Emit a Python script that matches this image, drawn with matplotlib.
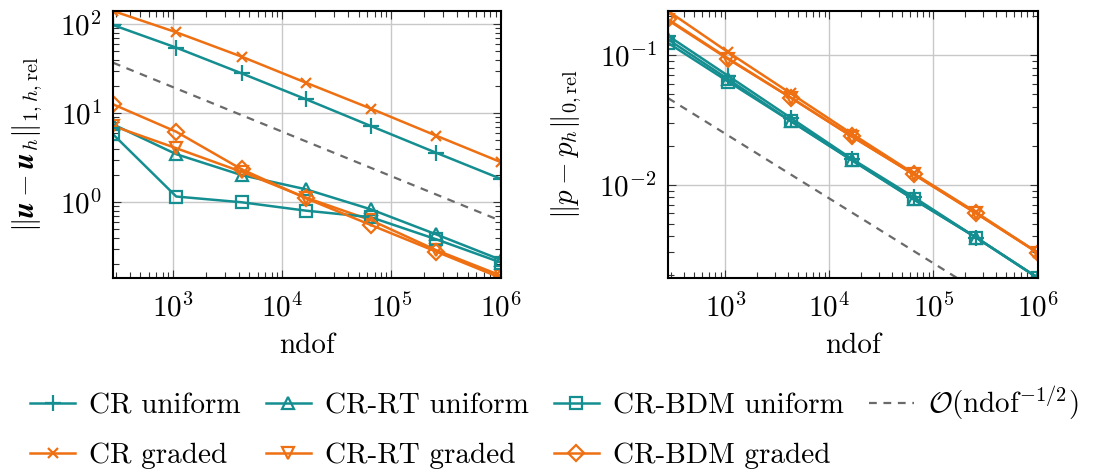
import numpy as np
import matplotlib
matplotlib.use('Agg')
import matplotlib.pyplot as plt
from matplotlib.ticker import LogLocator, NullFormatter

plt.rcParams['font.family'] = 'serif'
plt.rcParams['font.serif'] = ['cmr10']
plt.rcParams['mathtext.fontset'] = 'cm'
plt.rcParams['axes.formatter.use_mathtext'] = True

# ============ data ============
ndof = [281, 1066, 4230, 16400, 64600, 257000, 1.01e6]

# velocity error ||u - u_h||_{1,h,rel}
u_cr_uni = [98, 54.6, 28.1, 14.4, 7.2, 3.6, 1.83]
u_cr_gra = [141, 81.3, 43.3, 22.1, 11.3, 5.6, 2.82]
u_rt_uni = [7.5, 3.47, 2.02, 1.4, 0.834, 0.436, 0.225]
u_rt_gra = [7.2, 4.05, 2.2, 1.13, 0.63, 0.29, 0.15]
u_bdm_uni = [5.8, 1.16, 1.0, 0.805, 0.68, 0.384, 0.21]
u_bdm_gra = [12.6, 6.2, 2.35, 1.11, 0.556, 0.279, 0.141]
u_ref_c = 620.0

# pressure error ||p - p_h||_{0,rel}
p_cr_uni = [0.141, 0.069, 0.0328, 0.0158, 0.0080, 0.0039, 0.0019]
p_cr_gra = [0.219, 0.105, 0.0507, 0.0247, 0.0122, 0.0061, 0.00297]
p_rt_uni = [0.132, 0.065, 0.031, 0.0155, 0.0077, 0.0039, 0.0019]
p_rt_gra = [0.186, 0.093, 0.047, 0.0235, 0.012, 0.0060, 0.00297]
p_bdm_uni = [0.124, 0.0623, 0.0309, 0.0154, 0.00767, 0.0039, 0.0019]
p_bdm_gra = [0.189, 0.094, 0.047, 0.0236, 0.012, 0.0060, 0.00297]
p_ref_c = 0.78

teal = '#148e90'
orange = '#ee7012'
gray = '#6a6a6a'

series_style = [
    ('CR uniform', teal, '+'),
    ('CR graded', orange, 'x'),
    ('CR-RT uniform', teal, '^'),
    ('CR-RT graded', orange, 'v'),
    ('CR-BDM uniform', teal, 's'),
    ('CR-BDM graded', orange, 'D'),
]
msizes = {'+': 11, 'x': 7, '^': 8, 'v': 8, 's': 8.5, 'D': 8.5}

fig = plt.figure(figsize=(11.04, 4.71), dpi=100)
ax1 = fig.add_axes([0.1024, 0.4098, 0.3514, 0.5669])
ax2 = fig.add_axes([0.6051, 0.4098, 0.3351, 0.5669])


def draw(ax, data, c_ref, ylabel):
    x = np.array(ndof)
    for (lab, col, mk), y in zip(series_style, data):
        ax.plot(x, y, color=col, marker=mk, ms=msizes[mk], mfc='none',
                mew=1.6, lw=1.8, label=lab)
    ax.plot(x, c_ref * x ** -0.5, '--', color=gray, lw=1.6, dashes=(3.5, 3),
            label=r'$\mathcal{O}(\mathrm{ndof}^{-1/2})$')
    ax.set_xscale('log')
    ax.set_yscale('log')
    ax.set_xlim(x[0], x[-1])
    allv = np.concatenate([np.array(d) for d in data])
    ax.set_ylim(allv.min(), allv.max())
    ax.grid(True, which='major', color='#c8c8c8', lw=1.0)
    ax.set_axisbelow(True)
    ax.xaxis.set_major_locator(LogLocator(base=10, numticks=10))
    ax.xaxis.set_minor_locator(LogLocator(base=10, subs=np.arange(2, 10), numticks=20))
    ax.yaxis.set_minor_locator(LogLocator(base=10, subs=np.arange(2, 10), numticks=20))
    ax.xaxis.set_minor_formatter(NullFormatter())
    ax.yaxis.set_minor_formatter(NullFormatter())
    ax.tick_params(which='both', direction='in', top=True, right=True,
                   labelsize=21, width=0.8, color='#333333')
    ax.tick_params(axis='x', pad=11)
    ax.tick_params(axis='y', pad=8)
    ax.tick_params(which='major', length=6)
    ax.tick_params(which='minor', length=4)
    for sp in ax.spines.values():
        sp.set_linewidth(1.5)
    ax.set_xlabel('ndof', fontsize=21, labelpad=7)
    ax.set_ylabel(ylabel, fontsize=21, labelpad=11)


draw(ax1, [u_cr_uni, u_cr_gra, u_rt_uni, u_rt_gra, u_bdm_uni, u_bdm_gra], u_ref_c,
     r'$\Vert\boldsymbol{u}-\boldsymbol{u}_h\Vert_{1,h,\mathrm{rel}}$')
draw(ax2, [p_cr_uni, p_cr_gra, p_rt_uni, p_rt_gra, p_bdm_uni, p_bdm_gra], p_ref_c,
     r'$\Vert p-p_h\Vert_{0,\mathrm{rel}}$')

handles, labels = ax1.get_legend_handles_labels()
fig.legend(handles, labels, loc='center', bbox_to_anchor=(0.502, 0.0945), ncol=4,
           frameon=False, fontsize=21, handlelength=1.55, handletextpad=0.48,
           columnspacing=0.85, labelspacing=0.8, borderaxespad=0)

fig.savefig('out.png', dpi=100)
